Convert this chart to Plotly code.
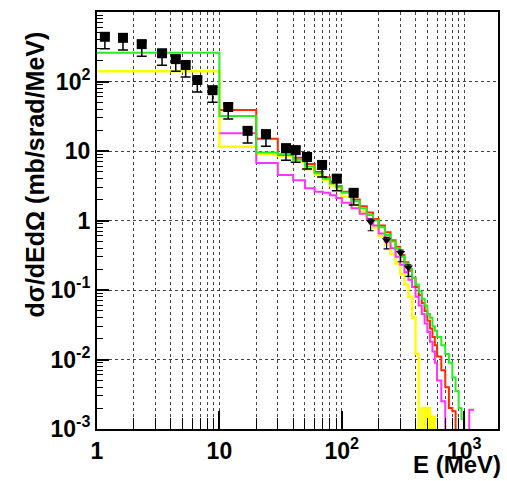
import plotly.graph_objects as go

# ---------------- data ----------------
E_edges = [1, 10, 20, 30, 40, 50, 60, 70, 80, 90, 100, 120, 140, 160, 180, 200, 225, 250,
           275, 300, 325, 350, 375, 400, 425, 450, 475, 500, 525, 550, 575, 600, 650, 700,
           750, 800, 850, 900, 950, 1000, 1100, 1200]

green = [260, 32, 9.5, 9.0, 7.5, 6.0, 4.8, 4.0, 3.4, 3.0, 2.5, 1.9, 1.5, 1.2, 1.0, 0.80,
         0.62, 0.50, 0.40, 0.30, 0.24, 0.20, 0.15, 0.12, 0.095, 0.075, 0.06, 0.045, 0.04,
         0.03, 0.026, 0.021, 0.016, 0.012, 0.009, 0.0055, 0.0035, 0.002, 0.0014, 0, 0]
red = [None, 39, 15, 8.8, 8.0, 6.5, 5.0, 4.2, 3.6, 3.1, 2.6, 2.0, 1.6, 1.3, 1.05, 0.85,
       0.68, 0.52, 0.42, 0.32, 0.25, 0.19, 0.15, 0.11, 0.085, 0.065, 0.05, 0.036, 0.028,
       0.021, 0.016, 0.011, 0.007, 0.004, 0.002, 0.0018, 0, 0, 0, 0, 0]
magenta = [None, 18, 6.7, 4.5, 3.8, 2.9, 2.6, 2.5, 2.3, 2.1, 1.8, 1.5, 1.25, 1.05, 0.85,
           0.65, 0.5, 0.4, 0.3, 0.23, 0.18, 0.14, 0.11, 0.08, 0.06, 0.045, 0.033, 0.025,
           0.018, 0.013, 0.009, 0.005, 0.0025, 0, 0, 0, 0, 0, 0, 0, 0.0019]
yellow = [140, 11.5, 9.0, 8.5, 7.0, 5.5, 4.5, 3.8, 3.2, 2.8, 2.2, 1.7, 1.35, 1.05, 0.8,
          0.6, 0.45, 0.33, 0.24, 0.17, 0.12, 0.08, 0.04, 0.012, 0, 0.002, 0, 0.002, 0,
          0.0015, 0, 0, 0, 0, 0, 0, 0, 0, 0, 0, 0]

data_E = [1.16, 1.63, 2.32, 3.4, 4.4, 5.3, 6.6, 8.8, 11.8, 17, 24, 35, 42, 52, 69, 91, 125]
data_y = [440, 425, 345, 255, 210, 173, 105, 75, 43, 19.5, 17.5, 11, 10.3, 8.2, 6.3, 4.0, 2.5]
data2_E = [172, 232, 302, 350]
data2_y = [0.95, 0.52, 0.34, 0.21]

x_tickvals = [1, 10, 100, 1000]
x_ticktext = ["1", "10", "10<sup>2</sup>", "10<sup>3</sup>"]
y_tickvals = [1e-3, 1e-2, 1e-1, 1, 10, 100, 1000]
y_ticktext = ["10<sup>-3</sup>", "10<sup>-2</sup>", "10<sup>-1</sup>", "1", "10",
              "10<sup>2</sup>", "10<sup>3</sup>"]

FLOOR = 1e-6


def step_xy(edges, vals):
    ys = [(FLOOR if (v is not None and v <= 0) else v) for v in vals]
    return list(edges), ys + [ys[-1]]


fig = go.Figure()
for vals, col, w in [(yellow, "#ffff00", 2.5), (magenta, "#ff33ff", 2),
                     (red, "#ff2a00", 2), (green, "#22ee22", 2)]:
    xs, ys = step_xy(E_edges, vals)
    fig.add_trace(go.Scatter(x=xs, y=ys, mode="lines", line_shape="hv",
                             line=dict(color=col, width=w), showlegend=False,
                             hoverinfo="skip"))

fig.add_trace(go.Scatter(
    x=data_E, y=data_y, mode="markers",
    marker=dict(symbol="square", size=10, color="black"),
    error_y=dict(type="data", symmetric=False,
                 array=[v * 0.1 for v in data_y],
                 arrayminus=[v * 0.33 for v in data_y],
                 color="black", thickness=1.5, width=5),
    showlegend=False))
fig.add_trace(go.Scatter(
    x=data2_E, y=data2_y, mode="markers",
    marker=dict(symbol="triangle-down", size=8, color="black"),
    error_y=dict(type="data", symmetric=False,
                 array=[v * 0.1 for v in data2_y],
                 arrayminus=[v * 0.25 for v in data2_y],
                 color="black", thickness=1.2, width=3),
    showlegend=False))

x_minor = [m * 10 ** k for k in range(0, 4) for m in range(2, 10)]
y_minor = [m * 10.0 ** k for k in range(-3, 3) for m in range(2, 10)]

tickfont = dict(family="Liberation Sans", size=23, color="black", weight="bold")
grid = dict(showgrid=True, gridcolor="#444444", gridwidth=1, griddash="dot")

fig.update_xaxes(
    type="log", range=[0, 3.276], tickmode="array", tickvals=x_tickvals,
    ticktext=x_ticktext, ticks="inside", ticklen=18, tickwidth=1.5, tickcolor="black",
    showline=True, linecolor="black", linewidth=2, mirror=True, zeroline=False,
    tickfont=tickfont, **grid,
    minor=dict(tickmode="array", tickvals=x_minor, ticks="inside", ticklen=11,
               tickwidth=1.2, tickcolor="black", showgrid=True, gridcolor="#444444",
               gridwidth=1, griddash="dot"))
fig.update_yaxes(
    type="log", range=[-3, 3], tickmode="array", tickvals=y_tickvals,
    ticktext=y_ticktext, ticks="inside", ticklen=12, tickwidth=1.5, tickcolor="black",
    showline=True, linecolor="black", linewidth=2, mirror=True, zeroline=False,
    tickfont=tickfont, **grid,
    minor=dict(tickmode="array", tickvals=y_minor, ticks="inside", ticklen=6,
               tickwidth=1.2, tickcolor="black", showgrid=False))

fig.add_annotation(text="dσ/dEdΩ (mb/srad/MeV)", textangle=-90, showarrow=False,
                   xref="paper", yref="paper", x=-0.155, y=0.61,
                   xanchor="center", yanchor="middle",
                   font=dict(family="Liberation Sans", size=25, color="black", weight="bold"))
fig.add_annotation(text="E (MeV)", showarrow=False, xref="paper", yref="paper",
                   x=1.012, y=-0.085, xanchor="right", yanchor="middle",
                   font=dict(family="Liberation Sans", size=24, color="black", weight="bold"))

fig.update_layout(width=507, height=481, margin=dict(l=97, r=7, t=12, b=52),
                  paper_bgcolor="white", plot_bgcolor="white", showlegend=False)

fig.write_html("out.html")
